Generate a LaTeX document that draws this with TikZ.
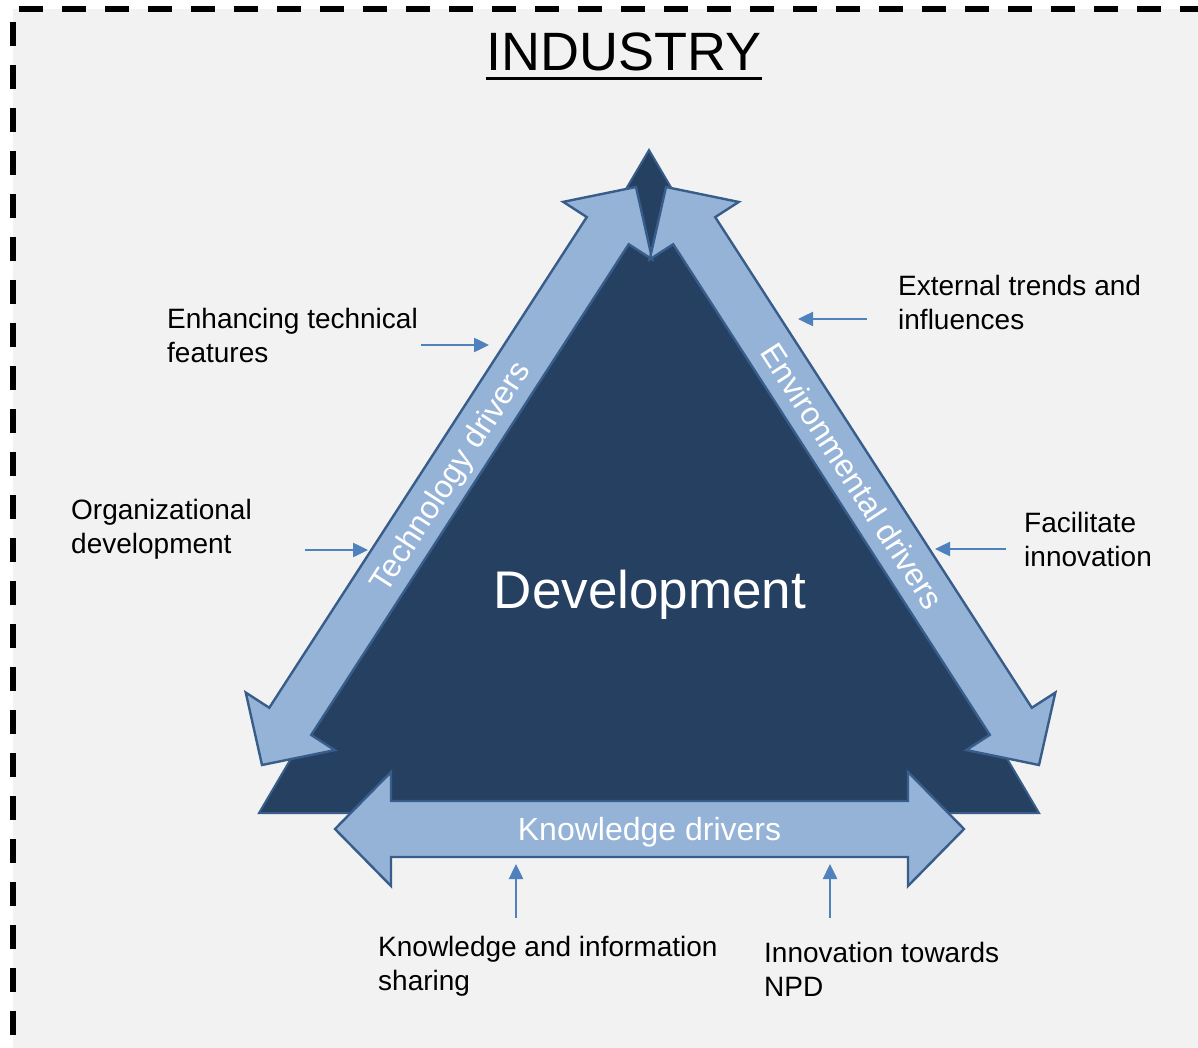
\documentclass[tikz,border=0pt]{standalone}
\usepackage{fontspec}
\setmainfont{Liberation Sans}
\usetikzlibrary{calc,arrows.meta}
\definecolor{bgc}{HTML}{F2F2F2}
\definecolor{darkc}{HTML}{254061}
\definecolor{lightc}{HTML}{95B3D7}
\definecolor{edgec}{HTML}{385D8A}
\definecolor{smallc}{HTML}{4F81BD}
% double arrow: #1 prefix, #2 tip A, #3 tip B, #4 head length, #5 head half width, #6 shaft half width
\newcommand{\dblarr}[6]{%
  \coordinate (#1ha) at ($(#2)!#4!(#3)$);
  \coordinate (#1hb) at ($(#3)!#4!(#2)$);
  \draw[bigarrow] (#2) -- ($(#1ha)!#5!90:(#2)$) -- ($(#1ha)!#6!90:(#2)$)
    -- ($(#1hb)!#6!-90:(#3)$) -- ($(#1hb)!#5!-90:(#3)$) -- (#3)
    -- ($(#1hb)!#5!90:(#3)$) -- ($(#1hb)!#6!90:(#3)$)
    -- ($(#1ha)!#6!-90:(#2)$) -- ($(#1ha)!#5!-90:(#2)$) -- cycle;
}
\tikzset{
  border/.style={draw=black, line width=6pt, dash pattern=on 24pt off 19pt},
  bigarrow/.style={fill=lightc, draw=edgec, line width=2.4pt, line join=miter},
  ontext/.style={text=white, font=\fontsize{32}{38}\selectfont, inner sep=0pt, text height=23pt, text depth=0pt},
  lbl/.style={text=black, font=\fontsize{28}{34}\selectfont, inner sep=0pt, anchor=base west},
  smallarr/.style={draw=smallc, line width=2.5pt, -{Triangle[length=15pt,width=14pt]}},
}
\newcommand{\twolines}[2]{\begin{tabular}[t]{@{}l@{}}#1\\#2\end{tabular}}
\begin{document}
\begin{tikzpicture}[x=1pt, y=-1pt]
\useasboundingbox (0,0) rectangle (1198,1048);
\fill[bgc] (13,9.5) rectangle (1210,1051);
\draw[border, dash phase=37] (13,9.5) -- (1210,9.5);
\draw[border, dash phase=30.5] (13,9.5) -- (13,1051);
\draw[border, dash phase=37] (13,1050.5) -- (1210,1050.5);

% title
\node[font=\fontsize{54}{60}\selectfont, inner sep=0pt, anchor=base] (ind) at (624,71) {INDUSTRY};
\draw[line width=3.5pt] ([yshift=-7.5pt]ind.base west) -- ([yshift=-7.5pt]ind.base east);

% dark triangle
\coordinate (apex) at (649,150);
\coordinate (bl) at (259,813);
\coordinate (br) at (1039,813);
\draw[fill=darkc, draw=edgec, line width=2pt] (apex) -- (bl) -- (br) -- cycle;

% three double arrows
\coordinate (lt) at (636,187);
\coordinate (lb) at (262,765);
\coordinate (rt) at (666,187);
\coordinate (rb) at (1039,765);
\coordinate (kl) at (335,829);
\coordinate (kr) at (964,829);
\dblarr{L}{lt}{lb}{52pt}{53pt}{25pt}
\dblarr{R}{rt}{rb}{52pt}{53pt}{25pt}
\dblarr{K}{kl}{kr}{56pt}{57pt}{28pt}

\node[ontext, rotate=57.1] (tech) at ($(lt)!0.5!(lb)$) {Technology drivers};
\node[ontext, rotate=-57.2] (env) at ($(rt)!0.5!(rb)$) {Environmental drivers};
\node[ontext] (know) at ($(kl)!0.5!(kr)$) {Knowledge drivers};

\node[text=white, font=\fontsize{53}{60}\selectfont, inner sep=0pt, anchor=base] (dev) at (650,608) {Development};

% labels
\node[lbl] (l1) at (167,328) {\twolines{Enhancing technical}{features}};
\node[lbl] (l2) at (71,519) {\twolines{Organizational}{development}};
\node[lbl] (l3) at (898,295) {\twolines{External trends and}{influences}};
\node[lbl] (l4) at (1024,532) {\twolines{Facilitate}{innovation}};
\node[lbl] (l5) at (378,956) {\twolines{Knowledge and information}{sharing}};
\node[lbl] (l6) at (764,962) {\twolines{Innovation towards}{NPD}};

% small arrows
\coordinate (a1s) at (421,345); \coordinate (a1e) at (489,345);
\coordinate (a2s) at (305,550); \coordinate (a2e) at (368,550);
\coordinate (a3s) at (867,319); \coordinate (a3e) at (798,319);
\coordinate (a4s) at (1006,549); \coordinate (a4e) at (935,549);
\coordinate (a5s) at (516,918); \coordinate (a5e) at (516,864);
\coordinate (a6s) at (830,918); \coordinate (a6e) at (830,864);
\draw[smallarr] (a1s) -- (a1e);
\draw[smallarr] (a2s) -- (a2e);
\draw[smallarr] (a3s) -- (a3e);
\draw[smallarr] (a4s) -- (a4e);
\draw[smallarr] (a5s) -- (a5e);
\draw[smallarr] (a6s) -- (a6e);
\end{tikzpicture}
\end{document}
